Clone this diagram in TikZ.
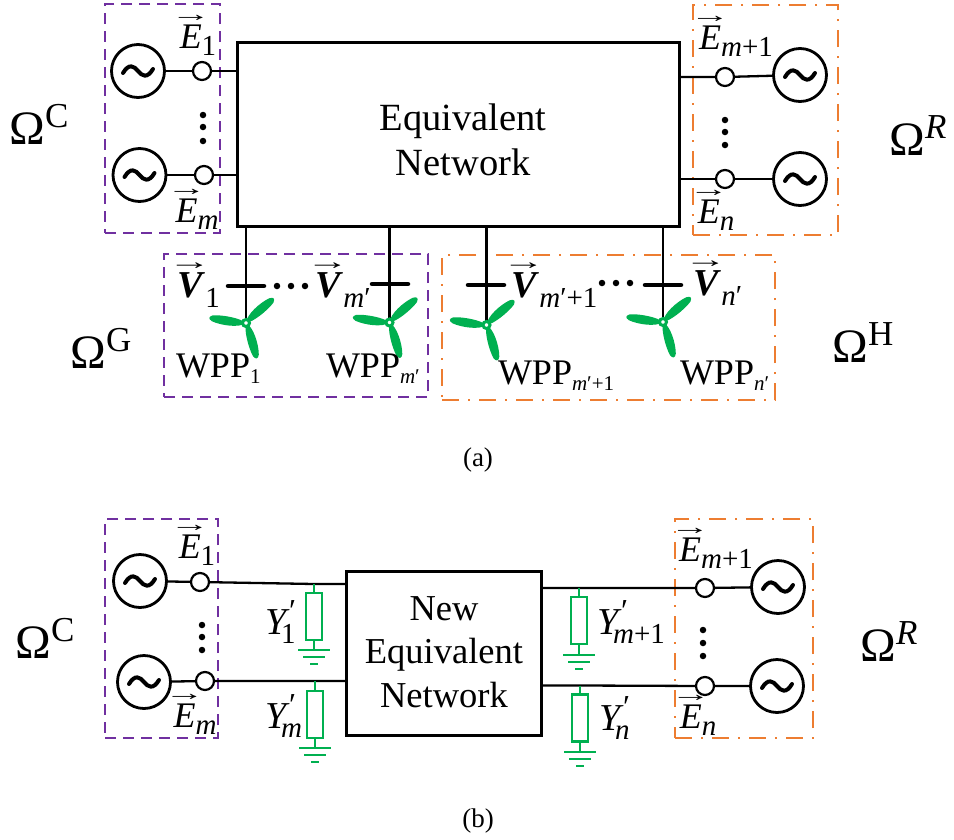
\documentclass[tikz,border=0pt]{standalone}
\usepackage{fontspec}
\usepackage{graphicx}
\setmainfont{Liberation Serif}
\definecolor{vio}{HTML}{7030A0}
\definecolor{ora}{HTML}{ED7D31}
\definecolor{grn}{HTML}{00B050}
\newcommand{\fsz}[1]{\fontsize{#1}{#1}\selectfont}
\newsavebox{\ovbox}
% letter with an arrow over it
\newcommand{\ovr}[1]{\sbox{\ovbox}{\fsz{36}\itshape #1}\leavevmode\rlap{\raisebox{27pt}{\makebox[\wd\ovbox][c]{\fsz{31}\normalfont\scalebox{1.3}[0.7]{→}}}}\usebox{\ovbox}}
\newcommand{\ovb}[1]{\sbox{\ovbox}{\fsz{38}\bfseries\itshape #1}\leavevmode\rlap{\raisebox{28pt}{\makebox[\wd\ovbox][c]{\fsz{33}\normalfont\scalebox{1.3}[0.7]{→}}}}\usebox{\ovbox}}
\newcommand{\sbt}[1]{\raisebox{-7pt}{\fsz{29}#1}}
\newcommand{\sbv}[1]{\kern3pt\raisebox{-10pt}{\fsz{29}#1}}
\newcommand{\mi}[1]{{\itshape #1}}
\newcommand{\Om}[2]{{\fsz{48}Ω}\raisebox{17pt}{\fsz{35}#1#2}}
\newcommand{\wpp}[1]{{\fsz{36}WPP}\raisebox{-6pt}{\fsz{21}#1}}
\newcommand{\yp}[1]{{\fsz{38}\mi{Y}}\rlap{\kern3pt\raisebox{13pt}{\fsz{32}′}}\kern-5pt\raisebox{-9pt}{\fsz{29}#1}}
\tikzset{
  x=1pt,y=-1pt,
  gen/.style={draw,circle,line width=2.8pt,minimum size=53pt,inner sep=0pt,outer sep=0pt},
  term/.style={draw,circle,line width=2.2pt,fill=white,minimum size=18pt,inner sep=0pt,outer sep=0pt},
  wire/.style={line width=2.3pt},
  block/.style={draw,line width=3pt,inner sep=0pt,outer sep=0pt},
  blocktext/.style={inner sep=0pt,outer sep=0pt,align=center},
  pbox/.style={draw=vio,line width=2.3pt,inner sep=0pt,outer sep=0pt,dash pattern=on 11pt off 7pt},
  obox/.style={draw=ora,line width=2.3pt,inner sep=0pt,outer sep=0pt,dash pattern=on 17pt off 9pt on 2pt off 9pt},
  lab/.style={inner sep=0pt,outer sep=0pt},
  bigl/.style={inner sep=0pt,outer sep=0pt},
  dotn/.style={circle,fill=black,minimum size=6.5pt,inner sep=0pt,outer sep=0pt},
  busbar/.style={line width=4.5pt,line cap=round},
  hub/.style={circle,draw=grn,fill=white,line width=3pt,minimum size=7pt,inner sep=0pt,outer sep=0pt},
  adm/.style={draw=grn,line width=2.2pt,minimum width=16pt,minimum height=47pt,inner sep=0pt,outer sep=0pt},
  gw/.style={draw=grn,line width=2.2pt},
  tilde/.pic={\draw[line width=4pt,line cap=round] (-15,2) .. controls (-9,-8) and (-4,-5) .. (0,0) .. controls (4,5) and (9,8) .. (15,-2);},
  blade/.pic={\fill[grn] (0,0) .. controls (6,-6) and (24,-6) .. (34,-3) .. controls (38,-1) and (38,1) .. (34,3) .. controls (24,5) and (6,4) .. (0,0) -- cycle;},
  gnd/.pic={\draw[gw] (-16,0) -- (16,0); \draw[gw] (-11,7) -- (11,7); \draw[gw,line width=2.6pt] (-4,14) -- (4,14);},
}
\newcommand{\turb}[2]{%
  \pic[rotate=172] at (#2) {blade};
  \pic[rotate=41.6] at (#2) {blade};
  \pic[rotate=-73] at (#2) {blade};
  \node[hub] (#1) at (#2) {};}
\begin{document}
\begin{tikzpicture}
\useasboundingbox (0,0) rectangle (954,839);
\fill[white] (0,0) rectangle (954,839);
% ---------- panel a
\node[pbox,minimum width=115pt,minimum height=229pt] (boxC) at (162.5,118.5) {};
\node[obox,minimum width=145pt,minimum height=230pt] (boxR) at (765.5,120) {};
\node[pbox,minimum width=264pt,minimum height=143pt] (boxG) at (296,325.5) {};
\node[obox,minimum width=333pt,minimum height=145pt] (boxH) at (608.5,327.5) {};
\node[block,minimum width=442pt,minimum height=184pt] (main) at (458,134) {};
\node[blocktext,font=\fsz{38.5}] (maint) at (463,140) {Equivalent\\[6pt]Network};
\node[gen] (g1) at (138,71) {};  \pic at (g1) {tilde};
\node[gen] (g2) at (139.5,175) {}; \pic at (g2) {tilde};
\node[gen] (g3) at (800,75) {};  \pic at (g3) {tilde};
\node[gen] (g4) at (800,179) {}; \pic at (g4) {tilde};
\node[term] (t1) at (202,71) {};
\node[term] (t2) at (204,175) {};
\node[term] (t3) at (725,77) {};
\node[term] (t4) at (725,179) {};
\draw[wire] (g1) -- (t1) -- (t1 -| main.west);
\draw[wire] (g2) -- (t2) -- (t2 -| main.west);
\draw[wire] (g3) -- (t3) -- (t3 -| main.east);
\draw[wire] (g4) -- (t4) -- (t4 -| main.east);
\foreach \n/\x/\y in {a/203/115,b/203/127,c/203/141,d/725/120,e/725/132,f/725/145}
  \node[dotn] (dot\n) at (\x,\y) {};
\node[lab] (lE1) at (198,35) {\ovr{E}\sbt{1}};
\node[lab] (lEm) at (197,209) {\ovr{E}\sbt{\mi{m}}};
\node[lab] (lEm1) at (736,36) {\ovr{E}\sbt{\mi{m}+1}};
\node[lab] (lEn) at (716,210) {\ovr{E}\sbt{\mi{n}}};
\node[bigl] (oC) at (39,124) {\Om{C}{}};
\node[bigl] (oR) at (918,136) {\Om{\mi{R}}{}};
\node[bigl] (oG) at (101,348) {\Om{G}{}};
\node[bigl] (oH) at (863,343) {\Om{H}{}};
% buses and turbines
\foreach \n/\x/\y in {1/246/286,2/390/284,3/486/285,4/663/285}{
  \coordinate (bl\n) at ({\x-18},\y);
  \coordinate (br\n) at ({\x+18},\y);
}
\coordinate (h1p) at (246,323);
\coordinate (h2p) at (389.5,322.5);
\coordinate (h3p) at (486.5,325);
\coordinate (h4p) at (663,322);
\draw[wire] (h1p |- main.south) -- (h1p);
\draw[wire] (h2p |- main.south) -- (h2p);
\draw[wire] (h3p |- main.south) -- (h3p);
\draw[wire] (h4p |- main.south) -- (h4p);
\foreach \n in {1,2,3,4} \draw[busbar] (bl\n) -- (br\n);
\turb{h1}{h1p}
\turb{h2}{h2p}
\turb{h3}{h3p}
\turb{h4}{h4p}
\foreach \n/\x/\y in {g/277/286,h/291/286,i/305/286,j/602/283,k/616/283,l/630/283}
  \node[dotn] (dot\n) at (\x,\y) {};
\node[lab,anchor=west] (lV1) at (177,285) {\ovb{V}\sbv{1}};
\node[lab,anchor=west] (lVm) at (315,285) {\ovb{V}\sbv{\mi{m}′}};
\node[lab,anchor=west] (lVm1) at (511,285) {\ovb{V}\sbv{\mi{m}′+1}};
\node[lab,anchor=west] (lVn) at (693,283) {\ovb{V}\sbv{\mi{n}′}};
\node[bigl,anchor=west] (w1) at (176,369) {\wpp{1}};
\node[bigl,anchor=west] (w2) at (326,369) {\wpp{\mi{m}′}};
\node[bigl,anchor=west] (w3) at (498,376) {\wpp{\mi{m}′+1}};
\node[bigl,anchor=west] (w4) at (680,376) {\wpp{\mi{n}′}};
\node[bigl,font=\fsz{27}] (capa) at (478,460) {(a)};
% ---------- panel b
\node[pbox,minimum width=113pt,minimum height=219pt] (boxC2) at (161.5,628.5) {};
\node[obox,minimum width=138pt,minimum height=219pt] (boxR2) at (744,628.5) {};
\node[block,minimum width=195pt,minimum height=164pt] (nen) at (443.5,653) {};
\node[blocktext,font=\fsz{36.5}] (nent) at (444,652) {New\\[7pt]Equivalent\\[7pt]Network};
\node[gen] (g5) at (140,581) {}; \pic at (g5) {tilde};
\node[gen] (g6) at (144,682) {}; \pic at (g6) {tilde};
\node[gen] (g7) at (778,587) {}; \pic at (g7) {tilde};
\node[gen] (g8) at (777,686) {}; \pic at (g8) {tilde};
\node[term] (t5) at (200,582) {};
\node[term] (t6) at (205,681) {};
\node[term] (t7) at (705,588) {};
\node[term] (t8) at (705,686) {};
\coordinate (j5) at (314,584);
\coordinate (j6) at (315,681);
\coordinate (j7) at (579,588);
\coordinate (j8) at (580,685.5);
\draw[wire] (g5) -- (t5) -- (j5) -- (j5 -| nen.west);
\draw[wire] (g6) -- (t6) -- (j6) -- (j6 -| nen.west);
\draw[wire] (g7) -- (t7) -- (j7) -- (j7 -| nen.east);
\draw[wire] (g8) -- (t8) -- (j8) -- (j8 -| nen.east);
\foreach \n/\x/\y in {m/202/625,o/202/637,p/202/650,q/703/630,r/703/643,s/703/656}
  \node[dotn] (dot\n) at (\x,\y) {};
\node[adm] (y1) at (314,616.5) {};
\node[adm] (y2) at (315,714.5) {};
\node[adm] (y3) at (579,620.5) {};
\node[adm] (y4) at (580,718) {};
\coordinate (e1) at (314,650);
\coordinate (e2) at (315,748);
\coordinate (e3) at (579,655);
\coordinate (e4) at (580,752);
\foreach \n in {1,2,3,4}{
  \draw[gw] (j\the\numexpr\n+4\relax) -- (y\n);
  \draw[gw] (y\n) -- (e\n);
  \pic at (e\n) {gnd};
}
\node[lab] (lE5) at (197,545) {\ovr{E}\sbt{1}};
\node[lab] (lE6) at (195,714) {\ovr{E}\sbt{\mi{m}}};
\node[lab] (lE7) at (716,548) {\ovr{E}\sbt{\mi{m}+1}};
\node[lab] (lE8) at (698,715) {\ovr{E}\sbt{\mi{n}}};
\node[lab,anchor=west] (ly1) at (265,622) {\yp{1}};
\node[lab,anchor=west] (ly2) at (265,716) {\yp{\mi{m}}};
\node[lab,anchor=west] (ly3) at (597,622) {\yp{\mi{m}+1}};
\node[lab,anchor=west] (ly4) at (599,718) {\yp{\mi{n}}};
\node[bigl] (oC2) at (45,638) {\Om{C}{}};
\node[bigl] (oR2) at (889,642) {\Om{\mi{R}}{}};
\node[bigl,font=\fsz{27}] (capb) at (478,821) {(b)};
\end{tikzpicture}
\end{document}
